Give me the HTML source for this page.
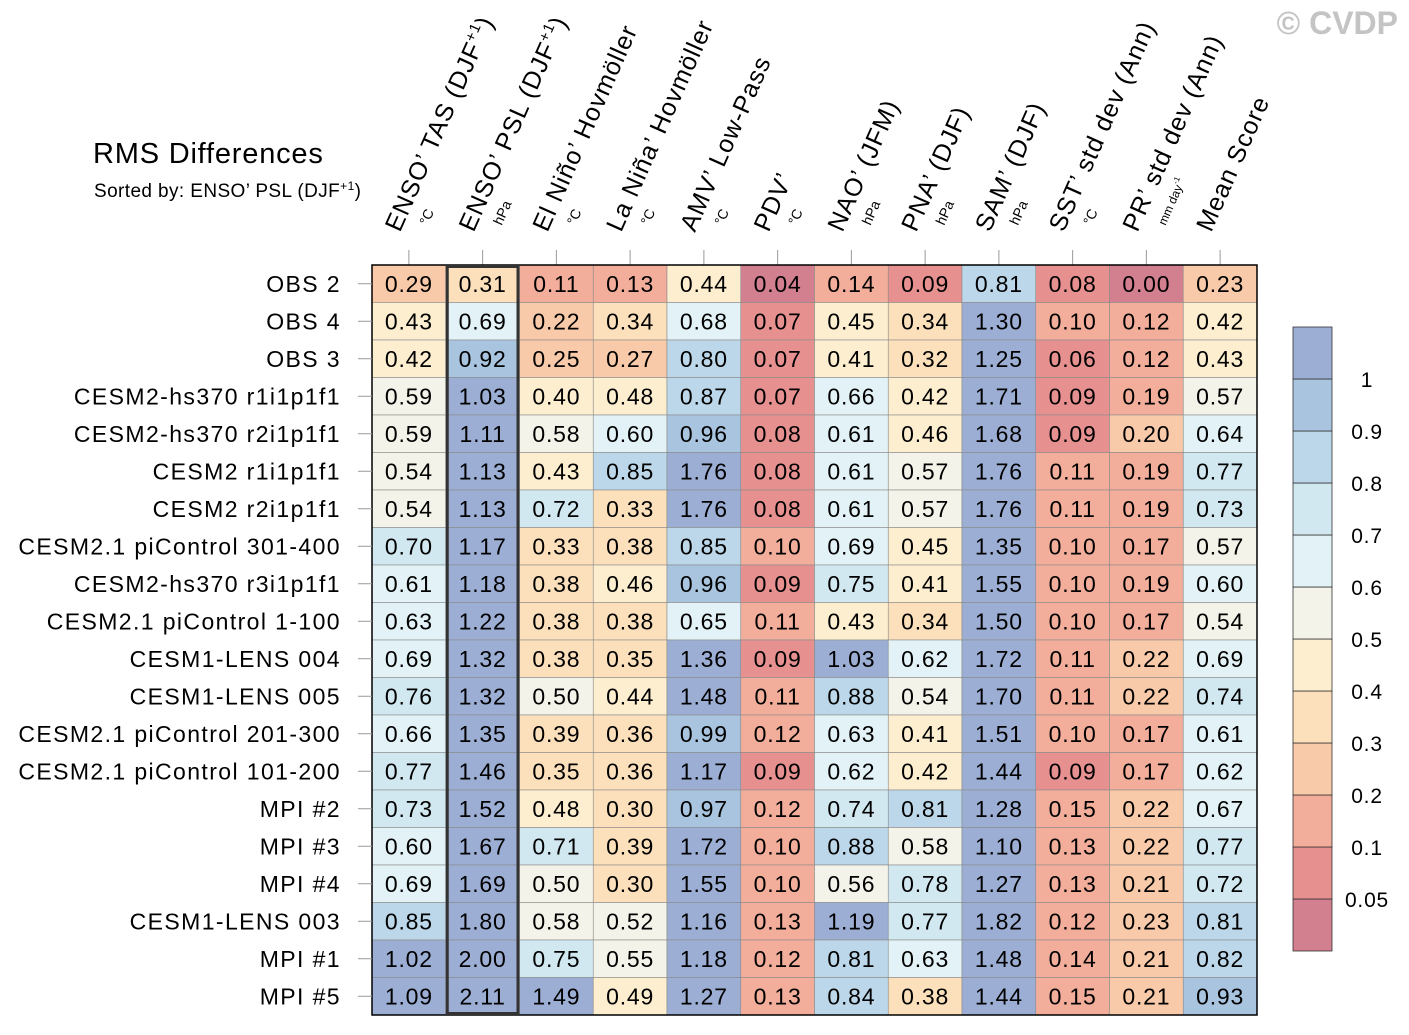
<!DOCTYPE html>
<html><head><meta charset="utf-8"><title>RMS Differences</title>
<style>
html,body{margin:0;padding:0;background:#fff;}
svg{display:block;font-family:"Liberation Sans",Arial,sans-serif;}
</style></head>
<body>
<svg id="chart" width="1409" height="1035" viewBox="0 0 1409 1035" xmlns="http://www.w3.org/2000/svg">
<text x="1398" y="34" text-anchor="end" font-size="32" font-weight="bold" fill="#c4c4c4">© CVDP</text>
<text x="93" y="163" font-size="29" letter-spacing="0.8" fill="#000">RMS Differences</text>
<text x="94" y="197" font-size="19" letter-spacing="0.4" fill="#000">Sorted by: ENSO’ PSL (DJF<tspan font-size="12" dy="-7">+1</tspan><tspan dy="7">)</tspan></text>
<g id="headers"></g>
<g id="cells"></g>
<g id="rowlabels"></g>
<g id="colorbar"></g>
</svg>
<script>
const columns = ["ENSO’ TAS (DJF+1)","ENSO’ PSL (DJF+1)","El Niño’ Hovmöller","La Niña’ Hovmöller","AMV’ Low-Pass","PDV’","NAO’ (JFM)","PNA’ (DJF)","SAM’ (DJF)","SST’ std dev (Ann)","PR’ std dev (Ann)","Mean Score"];
const units = ["°C","hPa","°C","°C","°C","°C","hPa","hPa","hPa","°C","mm day-1",""];
const rows = ["OBS 2","OBS 4","OBS 3","CESM2-hs370 r1i1p1f1","CESM2-hs370 r2i1p1f1","CESM2 r1i1p1f1","CESM2 r2i1p1f1","CESM2.1 piControl 301-400","CESM2-hs370 r3i1p1f1","CESM2.1 piControl 1-100","CESM1-LENS 004","CESM1-LENS 005","CESM2.1 piControl 201-300","CESM2.1 piControl 101-200","MPI #2","MPI #3","MPI #4","CESM1-LENS 003","MPI #1","MPI #5"];
const values = [
[0.29,0.31,0.11,0.13,0.44,0.04,0.14,0.09,0.81,0.08,0.00,0.23],
[0.43,0.69,0.22,0.34,0.68,0.07,0.45,0.34,1.30,0.10,0.12,0.42],
[0.42,0.92,0.25,0.27,0.80,0.07,0.41,0.32,1.25,0.06,0.12,0.43],
[0.59,1.03,0.40,0.48,0.87,0.07,0.66,0.42,1.71,0.09,0.19,0.57],
[0.59,1.11,0.58,0.60,0.96,0.08,0.61,0.46,1.68,0.09,0.20,0.64],
[0.54,1.13,0.43,0.85,1.76,0.08,0.61,0.57,1.76,0.11,0.19,0.77],
[0.54,1.13,0.72,0.33,1.76,0.08,0.61,0.57,1.76,0.11,0.19,0.73],
[0.70,1.17,0.33,0.38,0.85,0.10,0.69,0.45,1.35,0.10,0.17,0.57],
[0.61,1.18,0.38,0.46,0.96,0.09,0.75,0.41,1.55,0.10,0.19,0.60],
[0.63,1.22,0.38,0.38,0.65,0.11,0.43,0.34,1.50,0.10,0.17,0.54],
[0.69,1.32,0.38,0.35,1.36,0.09,1.03,0.62,1.72,0.11,0.22,0.69],
[0.76,1.32,0.50,0.44,1.48,0.11,0.88,0.54,1.70,0.11,0.22,0.74],
[0.66,1.35,0.39,0.36,0.99,0.12,0.63,0.41,1.51,0.10,0.17,0.61],
[0.77,1.46,0.35,0.36,1.17,0.09,0.62,0.42,1.44,0.09,0.17,0.62],
[0.73,1.52,0.48,0.30,0.97,0.12,0.74,0.81,1.28,0.15,0.22,0.67],
[0.60,1.67,0.71,0.39,1.72,0.10,0.88,0.58,1.10,0.13,0.22,0.77],
[0.69,1.69,0.50,0.30,1.55,0.10,0.56,0.78,1.27,0.13,0.21,0.72],
[0.85,1.80,0.58,0.52,1.16,0.13,1.19,0.77,1.82,0.12,0.23,0.81],
[1.02,2.00,0.75,0.55,1.18,0.12,0.81,0.63,1.48,0.14,0.21,0.82],
[1.09,2.11,1.49,0.49,1.27,0.13,0.84,0.38,1.44,0.15,0.21,0.93]];
const levels = [0.05,0.1,0.2,0.3,0.4,0.5,0.6,0.7,0.8,0.9,1];
const levelLabels = ["0.05","0.1","0.2","0.3","0.4","0.5","0.6","0.7","0.8","0.9","1"];
const palette = ["#d27f90","#e69190","#f2ae9a","#f9caa9","#fce0bb","#fdeecf","#f3f3e9","#e3f2f6","#d1e8f1","#bcd7e9","#a8c4df","#9caed4"];
const sortedCol = 1;

const NS="http://www.w3.org/2000/svg";
const X0=372, X1=1257, Y0=265, Y1=1015;
const cw=(X1-X0)/columns.length, rh=(Y1-Y0)/rows.length;
function xCol(i){return X0+i*cw;}
function yRow(j){return Y0+j*rh;}
function colorFor(v){let k=0;while(k<levels.length&&v>=levels[k]-1e-9)k++;return palette[k];}
function mk(tag,attrs,parent){const e=document.createElementNS(NS,tag);for(const a in attrs)e.setAttribute(a,attrs[a]);parent.appendChild(e);return e;}

const cells=document.getElementById('cells');
values.forEach((row,j)=>{row.forEach((v,i)=>{
  const r=mk('rect',{x:xCol(i),y:yRow(j),width:cw,height:rh,fill:colorFor(v),stroke:'#8a8a8a','stroke-width':0.6},cells);
  
  
  const t=mk('text',{x:xCol(i)+cw/2,y:yRow(j)+rh/2+8,'text-anchor':'middle','font-size':23,'letter-spacing':0.8,fill:'#000'},cells);
  
  
  t.textContent=v.toFixed(2);
});});
const border=mk('rect',{x:X0,y:Y0,width:X1-X0,height:Y1-Y0,fill:'none',stroke:'#000','stroke-width':1.5},cells);


const sel=mk('rect',{x:xCol(sortedCol)+1.5,y:Y0+1.5,width:cw-3,height:Y1-Y0-3,fill:'none',stroke:'#333','stroke-width':3},cells);



const rl=document.getElementById('rowlabels');
rows.forEach((name,j)=>{
  const cy=yRow(j)+rh/2;
  const tk=mk('line',{x1:358,x2:X0,y1:cy,y2:cy,stroke:'#999','stroke-width':1},rl);
  
  
  const t=mk('text',{x:341,y:cy+8,'text-anchor':'end','font-size':23,'letter-spacing':1.4,fill:'#000'},rl);
  
  
  t.textContent=name;
});

const hd=document.getElementById('headers');
columns.forEach((name,i)=>{
  const cx=xCol(i)+cw/2;
  const tk=mk('line',{x1:cx,x2:cx,y1:250,y2:Y0,stroke:'#999','stroke-width':1},hd);
  
  
  const t=mk('text',{x:0,y:0,'font-size':25,'letter-spacing':1,fill:'#000',transform:`translate(${cx-9},233) rotate(-66)`},hd);
  
  
  if(name.endsWith('+1)')){
    t.appendChild(document.createTextNode(name.replace('+1)','')));
    const s=mk('tspan',{'font-size':15,dy:-10},t);s.textContent='+1';
    const s2=mk('tspan',{dy:10},t);s2.textContent=')';
  } else t.textContent=name;
  if(units[i]){
    const u=mk('text',{x:0,y:0,'font-size':14,fill:'#000',transform:`translate(${cx+19},226) rotate(-66)`},hd);
    
    
    if(units[i].endsWith('-1')){
      u.setAttribute('font-size','12');
      u.appendChild(document.createTextNode(units[i].replace('-1','')));
      const s=mk('tspan',{'font-size':8,dy:-6},u);s.textContent='-1';
    } else u.textContent=units[i];
  }
});

const cb=document.getElementById('colorbar');
const CBX=1293, CBW=39, CBT=327, CBB=951;
const bh=(CBB-CBT)/palette.length;
palette.forEach((c,k)=>{
  const y=CBB-(k+1)*bh;
  const r=mk('rect',{x:CBX,y:y,width:CBW,height:bh,fill:c,stroke:'#333','stroke-width':0.8},cb);
  
  
});
levelLabels.forEach((lab,k)=>{
  const y=CBB-(k+1)*bh;
  const t=mk('text',{x:1367,y:y+8,'text-anchor':'middle','font-size':21,'letter-spacing':0.8,fill:'#000'},cb);
  
  
  t.textContent=lab;
});
</script>
</body></html>
